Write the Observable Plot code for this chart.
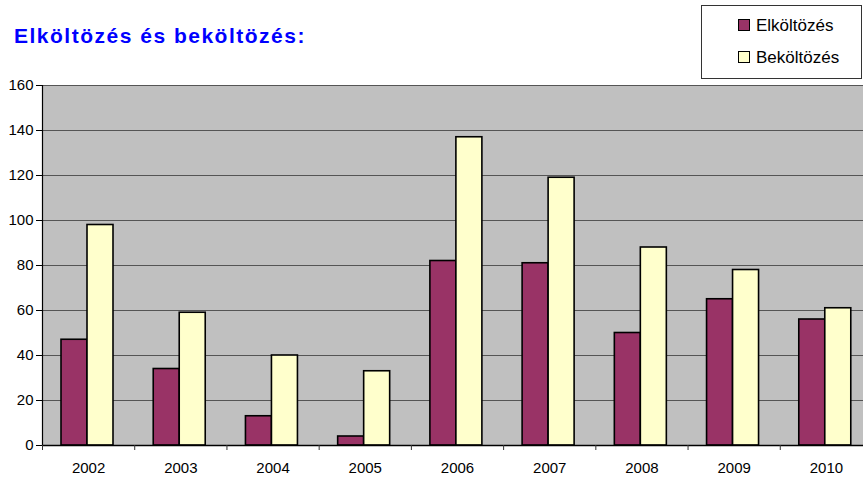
<!DOCTYPE html>
<html>
<head>
<meta charset="utf-8">
<script src="https://cdn.jsdelivr.net/npm/d3@7"></script>
<script src="https://cdn.jsdelivr.net/npm/@observablehq/plot@0.6"></script>
<style>
  html, body { margin: 0; padding: 0; background: #fff; overflow: hidden; }
  #wrap { position: relative; width: 863px; height: 478px; overflow: hidden; font-family: "Liberation Sans", Arial, sans-serif; }
  #chart { position: absolute; left: 0; top: 0; }
  #title { position: absolute; left: 14px; top: 24px; font-weight: bold; font-size: 21px; letter-spacing: 1.5px; color: #0000ff; white-space: nowrap; }
  #legend { position: absolute; left: 701px; top: 5px; width: 159px; height: 72px; border: 1px solid #333; background: #fff; }
  .li { position: absolute; left: 36px; font-size: 17px; color: #000; white-space: nowrap; }
  .sw { display: inline-block; width: 10px; height: 10px; border: 1px solid #000; margin-right: 6px; vertical-align: 0px; }
</style>
</head>
<body>
<div id="wrap">
  <div id="chart"></div>
  <div id="title">Elköltözés és beköltözés:</div>
  <div id="legend"></div>
</div>
<script>
const years = ["2002","2003","2004","2005","2006","2007","2008","2009","2010"];
const series = ["Elköltözés", "Beköltözés"];
const elkoltozes = [47, 34, 13, 4, 82, 81, 50, 65, 56];
const bekoltozes = [98, 59, 40, 33, 137, 119, 88, 78, 61];
const colors = ["#993366", "#FFFFCC"];
const yTicks = [0, 20, 40, 60, 80, 100, 120, 140, 160];

const data = [];
years.forEach((y, i) => {
  data.push({year: y, series: series[0], value: elkoltozes[i]});
  data.push({year: y, series: series[1], value: bekoltozes[i]});
});

const W = 872, mL = 42, mR = 0;
const facetW = (W - mL - mR) / years.length;

const chart = Plot.plot({
  width: W,
  height: 478,
  marginTop: 85,
  marginBottom: 33,
  marginLeft: mL,
  marginRight: mR,
  style: {fontFamily: "'Liberation Sans', Arial, sans-serif", fontSize: "15px", color: "#000", maxWidth: "none", background: "transparent"},
  fx: {domain: years, padding: 0, round: false, label: null, axis: null},
  x: {domain: series, paddingInner: 0, paddingOuter: 0.74, align: 0.46, axis: null},
  y: {domain: [0, 160], axis: null},
  color: {domain: series, range: colors},
  marks: [
    Plot.frame({fill: "#c0c0c0", stroke: null, shapeRendering: "crispEdges"}),
    Plot.gridY(yTicks, {stroke: "#555", strokeOpacity: 1, strokeWidth: 1, shapeRendering: "crispEdges"}),
    Plot.barY(data, {fx: "year", x: "series", y: "value", fill: "series", stroke: "#000", strokeWidth: 1.6}),
    Plot.ruleY([0], {stroke: "#000", strokeWidth: 1.5}),
    Plot.ruleX([years[0]], {fx: d => d, x: null, y1: 0, y2: 160, stroke: "#000", strokeWidth: 1.2, dx: -facetW / 2}),
    Plot.axisY({ticks: yTicks, tickSize: 6, tickPadding: 3, fontSize: 15, label: null, stroke: "#000"}),
    Plot.axisFx({anchor: "bottom", tickSize: 0, tickPadding: 17, fontSize: 15, label: null}),
    Plot.axisFx({anchor: "bottom", tickSize: 5, tickFormat: () => "", dx: -facetW / 2, label: null, stroke: "#333"})
  ]
});
document.getElementById("chart").appendChild(chart);

const legend = document.getElementById("legend");
series.forEach((s, i) => {
  const item = document.createElement("div");
  item.className = "li";
  item.style.top = (10 + i * 32) + "px";
  const sw = document.createElement("span");
  sw.className = "sw";
  sw.style.background = colors[i];
  item.appendChild(sw);
  item.appendChild(document.createTextNode(s));
  legend.appendChild(item);
});
</script>
</body>
</html>
